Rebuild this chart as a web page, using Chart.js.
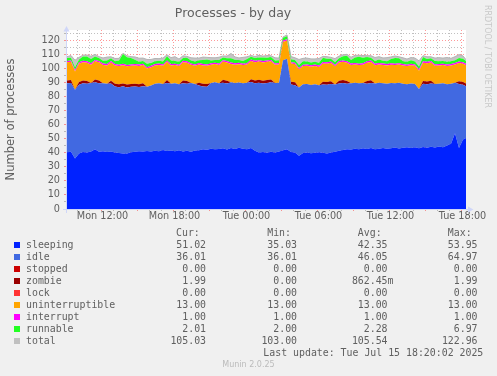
<!DOCTYPE html>
<html><head><meta charset="utf-8">
<script src="https://cdn.jsdelivr.net/npm/chart.js@4/dist/chart.umd.min.js"></script>
<style>
html,body{margin:0;padding:0;background:#f0f0f0;}
#wrap{position:relative;width:497px;height:376px;overflow:hidden;background:#f0f0f0;}
#c{position:absolute;left:0;top:0;}
.t{position:absolute;white-space:pre;font-family:"DejaVu Sans Mono",monospace;font-size:9.9px;line-height:12px;color:#606060;}
.sw{position:absolute;width:6px;height:6px;}
#side{position:absolute;left:482px;top:5px;writing-mode:vertical-rl;font-family:"DejaVu Sans",sans-serif;font-size:8px;line-height:10px;color:#c8c8c8;white-space:nowrap;}
#ver{position:absolute;left:0;width:497px;top:360px;text-align:center;font-family:"DejaVu Sans",sans-serif;font-size:8px;line-height:10px;color:#bbbbbb;}
</style></head><body>
<div id="wrap"><canvas id="c" width="497" height="376"></canvas><div id="legend"></div>
<div id="side">RRDTOOL / TOBI OETIKER</div>
<div id="ver">Munin 2.0.25</div>
</div>
<script>
// x axis: hours since Monday 00:00; one sample every 20 minutes starting Mon 09:10
const startHour = 9 + 10 / 60;
const stepHours = 1 / 3;
const xMin = startHour;
const xMax = startHour + 399 / 12;
const tickHours = [12, 18, 24, 30, 36, 42];
const tickLabels = ['Mon 12:00', 'Mon 18:00', 'Tue 00:00', 'Tue 06:00', 'Tue 12:00', 'Tue 18:00'];

const sleeping = [
 40.5,40.8,36.0,39.5,40.6,40.2,41.0,42.5,40.8,41.2,
 40.6,41.0,40.2,39.8,39.5,39.6,40.4,40.8,41.2,40.9,
 41.3,41.0,41.5,41.2,42.0,41.4,41.6,41.2,41.8,41.0,
 41.5,40.8,41.6,41.9,42.6,42.2,43.0,42.5,42.8,43.3,
 42.4,43.5,42.8,43.6,43.0,42.6,43.4,41.5,40.2,40.6,
 40.0,40.8,40.3,40.9,41.8,42.5,40.6,40.2,38.0,39.8,
 40.2,39.7,40.1,40.5,40.0,39.6,40.3,40.8,41.5,42.0,
 42.6,42.3,43.0,42.5,43.2,42.8,43.4,42.6,43.0,43.5,
 42.9,43.3,43.8,43.1,43.6,44.0,43.4,43.9,43.2,44.2,
 43.6,44.4,43.8,44.6,44.0,45.2,46.5,53.9,43.5,49.5,
 51.0];
const idle = [
 49.0,49.0,49.0,49.0,49.0,49.0,48.8,47.7,48.7,48.4,
 48.6,48.4,47.0,47.0,47.9,47.0,46.6,46.5,45.7,46.6,
 45.7,47.0,47.7,48.4,47.0,48.4,47.7,48.3,47.0,48.6,
 47.7,48.9,47.4,46.1,44.6,44.8,46.8,47.7,46.8,46.7,
 47.0,46.8,47.0,46.5,46.5,47.3,47.0,48.1,49.8,48.8,
 49.8,49.4,49.4,49.1,64.2,64.5,48.0,48.0,48.5,49.0,
 48.8,48.7,48.8,47.7,48.7,48.9,48.7,47.8,47.9,47.8,
 46.6,47.3,47.0,47.0,46.6,46.4,46.3,46.8,47.0,46.1,
 46.4,46.5,45.7,46.8,45.6,44.8,46.0,45.1,42.3,45.0,
 45.3,45.0,45.2,44.7,45.5,43.7,42.8,36.1,45.5,39.0,
 36.0];
const stopped = [
 0,0,0,0,0,0,0,0,0,0, 0,0,0,0,0,0,0,0,0,0, 0,0,0,0,0,0,0,0,0,0, 0,0,0,0,0,0,0,0,0,0,
 0,0,0,0,0,0,0,0,0,0, 0,0,0,0,0,0,0,0,0,0, 0,0,0,0,0,0,0,0,0,0, 0,0,0,0,0,0,0,0,0,0,
 0,0,0,0,0,0,0,0,0,0, 0,0,0,0,0,0,0,0,0,0, 0];
const zombie = [
 2,2,0,2,2,2,0,2,2,0,
 0,2,2,2,2,2,2,2,2,2,
 0,0,0,0,0,2,0,0,0,2,
 2,0,0,2,2,2,0,0,0,2,
 2,0,0,0,0,0,2,2,2,2,
 2,2,0,0,0,0,2,2,0,0,
 0,0,0,0,2,2,2,0,2,2,
 2,0,0,0,0,2,2,0,0,0,
 0,0,0,0,0,0,0,0,0,2,
 2,2,0,0,0,0,0,0,2,2,
 2];
const lock = [
 0,0,0,0,0,0,0,0,0,0, 0,0,0,0,0,0,0,0,0,0, 0,0,0,0,0,0,0,0,0,0, 0,0,0,0,0,0,0,0,0,0,
 0,0,0,0,0,0,0,0,0,0, 0,0,0,0,0,0,0,0,0,0, 0,0,0,0,0,0,0,0,0,0, 0,0,0,0,0,0,0,0,0,0,
 0,0,0,0,0,0,0,0,0,0, 0,0,0,0,0,0,0,0,0,0, 0];
const uninterruptible = [
 13,13,13,13,13,13,13,13,13,13, 13,13,13,13,13,13,13,13,13,13, 13,13,13,13,13,13,13,13,13,13,
 13,13,13,13,13,13,13,13,13,13, 13,13,13,13,13,13,13,13,13,13, 13,13,13,13,13,13,13,13,13,13,
 13,13,13,13,13,13,13,13,13,13, 13,13,13,13,13,13,13,13,13,13, 13,13,13,13,13,13,13,13,13,13,
 13,13,13,13,13,13,13,13,13,13, 13];
const interrupt = [
 1,1,1,1,1,1,1,1,1,1, 1,1,1,1,1,1,1,1,1,1, 1,1,1,1,1,1,1,1,1,1, 1,1,1,1,1,1,1,1,1,1,
 1,1,1,1,1,1,1,1,1,1, 1,1,1,1,1,1,1,1,1,1, 1,1,1,1,1,1,1,1,1,1, 1,1,1,1,1,1,1,1,1,1,
 1,1,1,1,1,1,1,1,1,1, 1,1,1,1,1,1,1,1,1,1, 1];
const runnable = [
 2,2,2,2,3,3.5,3,2.5,2,2,
 2.5,2,2,3,7,5.5,4.5,3,2,2,
 2.5,2,2,2,2,3,2.5,2,2,2,
 2.5,2,2,2,3,3.5,2,2,2.5,2,
 2,3,2.5,2,2,3,2,2,2,2.5,
 2,2,2,2,2,2,2,2,2,2.5,
 2,2,2,2,3,2.5,2,2,2,3,
 4,2.5,4,5,4,3,2,2,2.5,2,
 2,3,4,3.5,2,2,2.5,2,2,3,
 2,2,2.5,2,2,2,2,2,2.5,2.5,
 2];
const total = [
 108.5,109.3,106.0,108.0,109.6,109.7,108.8,110.2,108.5,107.6,
 108.2,108.4,107.2,107.3,110.9,109.1,108.5,108.3,107.4,107.5,
 106.5,106.5,107.2,107.1,107.5,109.8,107.8,108.5,106.8,109.1,
 108.7,107.7,107.5,107.5,108.2,108.0,107.8,107.7,108.1,109.0,
 108.9,110.8,108.3,107.6,108.0,108.4,109.4,108.6,109.5,108.9,
 109.3,109.2,107.7,107.5,122.5,124.0,108.6,107.7,106.5,107.3,
 107.5,106.9,106.9,107.2,108.7,108.5,108.0,107.1,108.9,109.8,
 110.2,108.1,109.5,109.5,109.3,109.2,109.2,107.9,108.5,107.6,
 107.8,108.3,109.0,108.4,107.7,106.8,107.9,107.5,105.5,109.2,
 108.4,108.4,107.5,107.8,107.5,107.9,107.3,108.5,110.0,109.0,
 105.5];

// legend table (text as printed under the graph)
const seriesNames = ['sleeping','idle','stopped','zombie','lock','uninterruptible','interrupt','runnable','total'];
const seriesColors = ['#0022ff','#4169e1','#cc0000','#990000','#ff3333','#ffa500','#ff00ff','#22ff22','#c0c0c0'];
const curVals = ['51.02','36.01','0.00','1.99','0.00','13.00','1.00','2.01','105.03'];
const minVals = ['35.03','36.01','0.00','0.00','0.00','13.00','1.00','2.00','103.00'];
const avgVals = ['42.35 ','46.05 ','0.00 ','862.45m','0.00 ','13.00 ','1.00 ','2.28 ','105.54 '];
const maxVals = ['53.95','64.97','0.00','1.99','0.00','13.00','1.00','6.97','122.96'];
const lastUpdate = 'Last update: Tue Jul 15 18:20:02 2025';

const seriesData = [sleeping, idle, stopped, zombie, lock, uninterruptible, interrupt, runnable];
const xs = sleeping.map((_, i) => startHour + i * stepHours);
const toPts = arr => arr.map((v, i) => ({x: xs[i], y: v}));

const datasets = seriesData.map((arr, k) => ({
  label: seriesNames[k],
  data: toPts(arr),
  backgroundColor: seriesColors[k],
  borderColor: 'rgba(0,0,0,0)',
  borderWidth: 0,
  pointRadius: 0,
  tension: 0,
  fill: k === 0 ? 'origin' : '-1'
}));
datasets.push({
  label: 'total',
  data: toPts(total),
  stack: 'tot',
  backgroundColor: '#c4c4c4',
  borderColor: '#b4b4b4',
  borderWidth: 1,
  pointRadius: 0,
  tension: 0,
  fill: '-1'
});

const muninPlugin = {
  id: 'munin',
  beforeDraw(chart) {
    const {ctx, chartArea: a} = chart;
    ctx.save();
    ctx.fillStyle = '#ffffff';
    ctx.fillRect(a.left, a.top, a.right - a.left, a.bottom - a.top);
    ctx.restore();
  },
  afterDraw(chart) {
    const {ctx, chartArea: a} = chart;
    ctx.save();
    ctx.strokeStyle = '#cfd6f8';
    ctx.fillStyle = '#cfd6f8';
    ctx.lineWidth = 1;
    ctx.beginPath();
    ctx.moveTo(a.left - 0.5, a.bottom + 4);
    ctx.lineTo(a.left - 0.5, a.top - 2);
    ctx.moveTo(a.left - 4, a.bottom + 0.5);
    ctx.lineTo(a.right + 3, a.bottom + 0.5);
    ctx.stroke();
    ctx.beginPath();
    ctx.moveTo(a.left - 0.5, a.top - 4);
    ctx.lineTo(a.left - 3.5, a.top + 1.5);
    ctx.lineTo(a.left + 2.5, a.top + 1.5);
    ctx.closePath();
    ctx.fill();
    ctx.beginPath();
    ctx.moveTo(a.right + 7.5, a.bottom + 0.5);
    ctx.lineTo(a.right + 2, a.bottom - 2.5);
    ctx.lineTo(a.right + 2, a.bottom + 3.5);
    ctx.closePath();
    ctx.fill();
    ctx.restore();
  }
};

const minorGrid = 'rgba(140,140,140,0.55)';
const majorGrid = 'rgba(255,0,0,0.4)';

new Chart(document.getElementById('c'), {
  type: 'line',
  data: {datasets},
  plugins: [muninPlugin],
  options: {
    responsive: false,
    animation: false,
    devicePixelRatio: 1,
    layout: {padding: {left: 0, right: 31, top: 0, bottom: 0}},
    plugins: {
      legend: {display: false},
      tooltip: {enabled: false},
      title: {
        display: true, text: 'Processes - by day', color: '#606060',
        font: {family: 'DejaVu Sans', size: 12.5, weight: 'normal', lineHeight: 1.2},
        padding: {top: 6, bottom: 9}
      }
    },
    scales: {
      x: {
        type: 'linear', min: xMin, max: xMax, z: 1,
        afterFit(s) { s.height = 167; },
        border: {display: false, dash: [1, 2]},
        grid: {
          color: c => (c.tick && c.tick.value % 3 === 0) ? majorGrid : minorGrid,
          tickColor: c => (c.tick && c.tick.value % 3 === 0) ? majorGrid : minorGrid,
          lineWidth: 1, drawTicks: true, tickLength: 2
        },
        ticks: {
          stepSize: 1, autoSkip: false, maxRotation: 0, minRotation: 0, includeBounds: false,
          padding: 0, labelOffset: 1.5, color: '#606060',
          font: {family: 'DejaVu Sans', size: 9.7},
          callback: v => { const k = tickHours.indexOf(v); return k >= 0 ? tickLabels[k] : ''; }
        }
      },
      y: {
        stacked: true, min: 0, max: 127.5, z: 1,
        afterFit(s) { s.width = 67; },
        border: {display: false, dash: [1, 2]},
        grid: {
          color: c => (c.tick && c.tick.value % 10 === 0) ? majorGrid : minorGrid,
          tickColor: c => (c.tick && c.tick.value % 10 === 0) ? majorGrid : minorGrid,
          lineWidth: 1, drawTicks: true, tickLength: 3
        },
        title: {
          display: true, text: 'Number of processes', color: '#606060',
          font: {family: 'DejaVu Sans', size: 11.5, weight: 'normal'},
          padding: {top: 4, bottom: 0}
        },
        ticks: {
          stepSize: 5, autoSkip: false, includeBounds: false, padding: 4, color: '#606060',
          font: {family: 'DejaVu Sans', size: 9.7},
          callback: v => (v % 10 === 0) ? String(v) : ''
        }
      }
    }
  }
});

// legend as real text
const leg = document.getElementById('legend');
function addText(txt, top, left, right) {
  const d = document.createElement('div');
  d.className = 't';
  d.textContent = txt;
  d.style.top = top + 'px';
  if (left !== null) d.style.left = left + 'px';
  if (right !== null) { d.style.right = (497 - right) + 'px'; d.style.textAlign = 'right'; }
  leg.appendChild(d);
}
addText('Cur:', 227, 176, null);
addText('Min:', 227, 267.2, null);
addText('Avg:', 227, 357.8, null);
addText('Max:', 227, 447.8, null);
seriesNames.forEach((n, k) => {
  const top = 239 + 12 * k;
  const sw = document.createElement('div');
  sw.className = 'sw';
  sw.style.left = '14px';
  sw.style.top = (242 + 12 * k) + 'px';
  sw.style.background = seriesColors[k];
  leg.appendChild(sw);
  addText(n, top, 26, null);
  addText(curVals[k] + ' ', top, null, 212);
  addText(minVals[k] + ' ', top, null, 303);
  addText(avgVals[k], top, null, 393.5);
  addText(maxVals[k] + ' ', top, null, 483.5);
});
addText(lastUpdate, 347, null, 483.3);
</script>
</body></html>
